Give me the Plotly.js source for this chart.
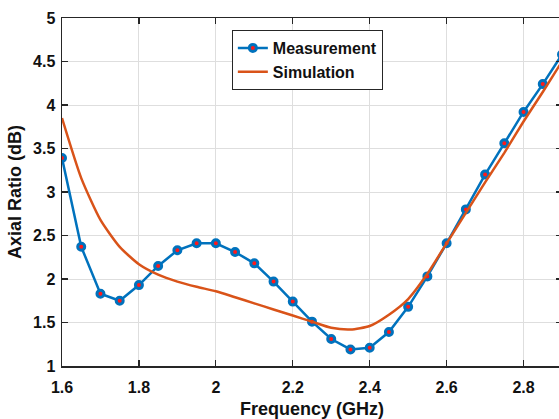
<!DOCTYPE html>
<html>
<head>
<meta charset="utf-8">
<script src="https://cdn.plot.ly/plotly-3.0.1.min.js"></script>
<style>
html,body{margin:0;padding:0;overflow:hidden;background:#fff;width:559px;height:419px;}
#chart{width:580px;height:419px;}
</style>
</head>
<body>
<div id="chart"></div>
<script>
const freq = [1.6,1.65,1.7,1.75,1.8,1.85,1.9,1.95,2.0,2.05,2.1,2.15,2.2,2.25,2.3,2.35,2.4,2.45,2.5,2.55,2.6,2.65,2.7,2.75,2.8,2.85,2.9];
const measurement = [3.39,2.37,1.83,1.75,1.93,2.15,2.33,2.41,2.41,2.31,2.18,1.97,1.74,1.51,1.31,1.19,1.21,1.39,1.68,2.03,2.41,2.80,3.20,3.56,3.92,4.24,4.58];
const simulation = [3.85,3.16,2.68,2.37,2.17,2.05,1.97,1.91,1.86,1.79,1.72,1.65,1.58,1.51,1.44,1.42,1.46,1.59,1.77,2.06,2.41,2.76,3.11,3.45,3.81,4.15,4.50];
const xTicks = [1.6,1.8,2.0,2.2,2.4,2.6,2.8];
const xTickText = ['1.6','1.8','2','2.2','2.4','2.6','2.8'];
const yTicks = [1,1.5,2,2.5,3,3.5,4,4.5,5];
const yTickText = ['1','1.5','2','2.5','3','3.5','4','4.5','5'];

const fontFam = 'Liberation Sans, Arial, sans-serif';
const traces = [
  {x: freq, y: measurement, name: 'Measurement', type: 'scatter', mode: 'lines+markers',
   line: {color: '#0072BD', width: 2.5},
   marker: {color: '#FF1A1A', size: 7, line: {color: '#0072BD', width: 3}}},
  {x: freq, y: simulation, name: 'Simulation', type: 'scatter', mode: 'lines',
   line: {color: '#D95319', width: 2.5, shape: 'spline', smoothing: 0.6}}
];
const axisCommon = {
  showline: true, linecolor: '#262626', linewidth: 1.5, mirror: 'ticks',
  ticks: 'inside', ticklen: 6, tickwidth: 1.2, tickcolor: '#262626',
  showgrid: true, gridcolor: '#dedede', gridwidth: 1, zeroline: false,
  tickfont: {family: fontFam, size: 16, color: '#111', weight: 'bold'}
};
const layout = {
  width: 580, height: 419,
  margin: {l: 62, r: 17.5, t: 18, b: 53},
  paper_bgcolor: '#fff', plot_bgcolor: '#fff',
  showlegend: true,
  xaxis: Object.assign({}, axisCommon, {
    range: [1.6, 2.9], tickvals: xTicks, ticktext: xTickText,
    ticklabelstandoff: 6,
    title: {text: 'Frequency (GHz)', font: {family: fontFam, size: 18, color: '#111', weight: 'bold'}, standoff: 8}
  }),
  yaxis: Object.assign({}, axisCommon, {
    range: [1, 5], tickvals: yTicks, ticktext: yTickText,
    ticklabelstandoff: 2,
    title: {text: 'Axial Ratio (dB)', font: {family: fontFam, size: 18, color: '#111', weight: 'bold'}, standoff: 6}
  }),
  legend: {
    x: 0.3397, y: 0.9655, xanchor: 'left', yanchor: 'top',
    bgcolor: '#fff', bordercolor: '#262626', borderwidth: 1,
    font: {family: fontFam, size: 16, color: '#111', weight: 'bold'},
    tracegroupgap: 0
  }
};
Plotly.newPlot('chart', traces, layout, {displayModeBar: false, staticPlot: true});
</script>
</body>
</html>
